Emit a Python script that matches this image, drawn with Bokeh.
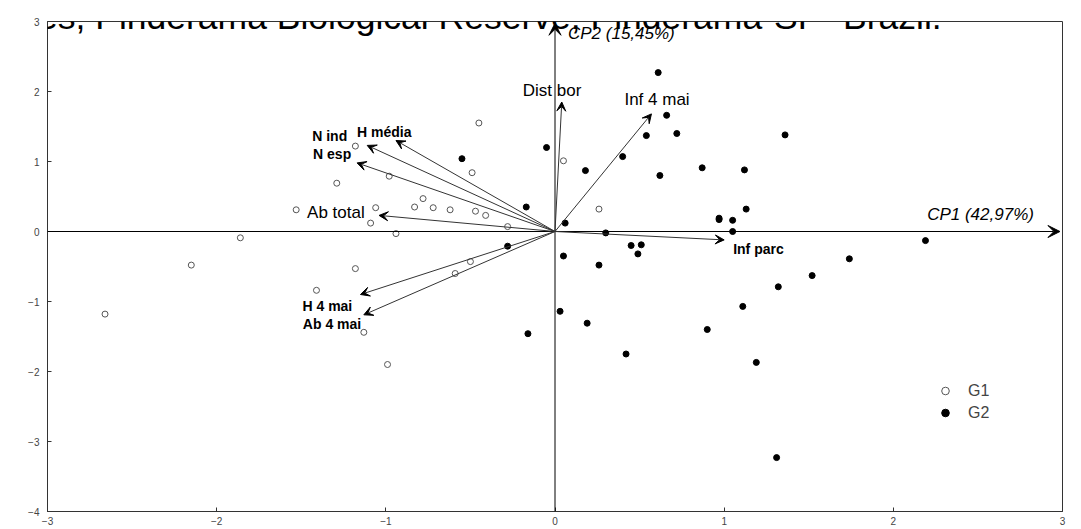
from bokeh.plotting import figure
from bokeh.models import (ColumnDataSource, Arrow, VeeHead, Label, Legend,
                          LegendItem, FixedTicker)
from bokeh.embed import file_html
from bokeh.resources import INLINE

# ---------------- data ----------------
title_text = "nces, Pinderama Biological Reserve, Pinderama-SP- Brazil."
cp1_label = "CP1 (42,97%)"
cp2_label = "CP2 (15,45%)"
x_ticks = [-3, -2, -1, 0, 1, 2, 3]
y_ticks = [-4, -3, -2, -1, 0, 1, 2, 3]
group_names = ["G1", "G2"]

g1_x = [-0.45, -1.18, 0.05, -0.49, -0.98, -1.29, -0.78, -0.83, -0.72, -0.62,
        -1.06, -0.47, -0.41, -1.53, -1.09, -0.28, -0.94, -0.50, -0.59, -1.18,
        -1.41, -1.13, -0.99, -1.86, -2.15, -2.66, 0.26]
g1_y = [1.55, 1.22, 1.01, 0.84, 0.79, 0.69, 0.47, 0.35, 0.34, 0.31,
        0.34, 0.29, 0.23, 0.31, 0.12, 0.07, -0.03, -0.43, -0.60, -0.53,
        -0.84, -1.44, -1.90, -0.09, -0.48, -1.18, 0.32]

g2_x = [-0.05, -0.55, -0.17, 0.06, -0.28, 0.05, 0.03, -0.16, 0.61, 0.66,
        0.54, 0.72, 0.97, 0.97, 1.05, 1.13, 1.05, 2.19, 1.74, 0.40,
        0.18, 0.62, 0.87, 1.12, 1.36, 0.30, 0.26, 0.45, 0.51, 0.49,
        1.32, 1.52, 1.11, 0.19, 0.42, 0.90, 1.19, 1.31]
g2_y = [1.20, 1.04, 0.35, 0.12, -0.21, -0.35, -1.14, -1.46, 2.27, 1.66,
        1.37, 1.40, 0.19, 0.17, 0.16, 0.32, 0.00, -0.13, -0.39, 1.07,
        0.87, 0.80, 0.91, 0.88, 1.38, -0.02, -0.48, -0.20, -0.19, -0.32,
        -0.79, -0.63, -1.07, -1.31, -1.75, -1.40, -1.87, -3.23]

vec_names = ["H média", "N ind", "N esp", "Ab total", "Dist bor",
             "Inf 4 mai", "Inf parc", "H 4 mai", "Ab 4 mai"]
vec_x = [-0.94, -1.11, -1.17, -1.04, 0.04, 0.57, 1.00, -1.15, -1.13]
vec_y = [1.30, 1.23, 0.98, 0.23, 1.85, 1.68, -0.12, -0.90, -1.19]

# ---------------- label layout (pixels) ----------------
vec_lab_dx = [-39, -55, -44, -72, -39, -27, 9, -58, -61]
vec_lab_dy = [-9, -9, -9, -3, -12, -14, 9, 11, 9]     # screen, down positive
vec_lab_bold = [True, True, True, False, False, False, True, True, True]

FONT = "Liberation Sans"

p = figure(width=1073, height=529, x_range=(-3, 3), y_range=(-4, 3),
           output_backend="svg", toolbar_location=None,
           min_border_left=47, min_border_right=11, min_border_top=21,
           min_border_bottom=18)
p.xgrid.visible = False
p.ygrid.visible = False
p.outline_line_color = "#333333"
p.background_fill_color = "white"
p.border_fill_color = "white"

p.xaxis.ticker = FixedTicker(ticks=x_ticks)
p.yaxis.ticker = FixedTicker(ticks=y_ticks)
for ax in (p.xaxis[0], p.yaxis[0]):
    ax.major_tick_in = 4
    ax.major_tick_out = 0
    ax.minor_tick_line_color = None
    ax.axis_line_color = "#333333"
    ax.major_tick_line_color = "#333333"
    ax.major_label_text_font = FONT
    ax.major_label_text_font_size = "10px"
    ax.major_label_text_color = "#444444"
p.xaxis.major_label_standoff = 5
p.yaxis.major_label_standoff = 8

# central axes with arrowheads
axis_src = ColumnDataSource(dict(x0=[-3, 0], y0=[0, -4], x1=[2.985, 0], y1=[0, 2.975]))
p.add_layout(Arrow(end=VeeHead(size=12, fill_color="black", line_color="black"),
                   source=axis_src, x_start="x0", y_start="y0", x_end="x1", y_end="y1",
                   line_color="black", line_width=1))

# variable vectors
vec_src = ColumnDataSource(dict(x0=[0] * len(vec_x), y0=[0] * len(vec_y), x1=vec_x, y1=vec_y))
p.add_layout(Arrow(end=VeeHead(size=9, fill_color="black", line_color="black"),
                   source=vec_src, x_start="x0", y_start="y0", x_end="x1", y_end="y1",
                   line_color="#333333", line_width=1))

# points
r1 = p.scatter(g1_x, g1_y, marker="circle", size=6, fill_color="white",
               line_color="#555555", line_width=1)
r2 = p.scatter(g2_x, g2_y, marker="circle", size=6, fill_color="black",
               line_color="black")

# vector labels
for name, x, y, dx, dy, bold in zip(vec_names, vec_x, vec_y, vec_lab_dx, vec_lab_dy, vec_lab_bold):
    p.add_layout(Label(x=x, y=y, x_offset=dx, y_offset=-dy, text=name,
                       text_font=FONT, text_font_size="14px" if bold else "17px",
                       text_font_style="bold" if bold else "normal",
                       text_baseline="middle", text_align="left", text_color="black"))

# axis names
p.add_layout(Label(x=2.2, y=0, y_offset=17, text=cp1_label, text_font=FONT,
                   text_font_size="17px", text_font_style="italic",
                   text_baseline="middle", text_color="black"))
p.add_layout(Label(x=0, y=3, x_offset=13, y_offset=-12, text=cp2_label, text_font=FONT,
                   text_font_size="17px", text_font_style="italic",
                   text_baseline="middle", text_color="black"))

# clipped title fragment at top
p.add_layout(Label(x=-3, y=3, x_offset=-47, y_offset=5, text=title_text, text_font=FONT,
                   text_font_size="35.5px", text_baseline="alphabetic", text_color="black"))

legend = Legend(items=[LegendItem(label=group_names[0], renderers=[r1]),
                       LegendItem(label=group_names[1], renderers=[r2])],
                location=(888, 89), padding=0, margin=0, spacing=3,
                glyph_width=20, glyph_height=19, label_height=19, label_standoff=13,
                label_text_font=FONT, label_text_font_size="16px",
                border_line_alpha=0, background_fill_alpha=0)
p.add_layout(legend)

open("out.html", "w").write(file_html(p, INLINE))
